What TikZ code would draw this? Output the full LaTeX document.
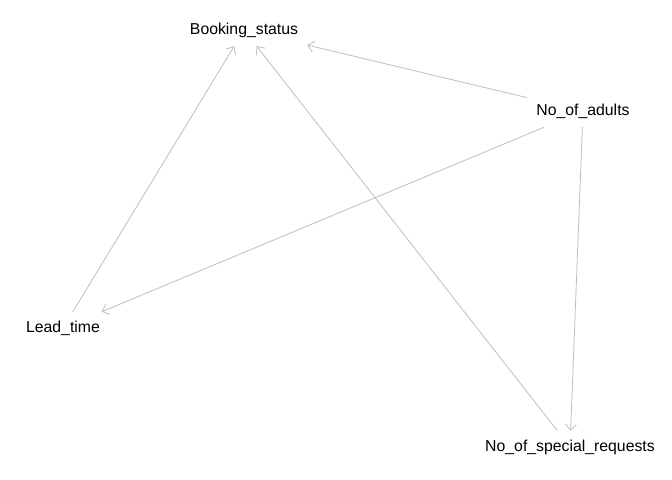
\documentclass[tikz,border=0pt]{standalone}
\usepackage{fontspec}
\setmainfont{Liberation Sans}
\usetikzlibrary{arrows.meta}
\definecolor{edgegray}{RGB}{190,190,190}
\tikzset{
  var/.style={rectangle, inner xsep=9bp, inner ysep=0bp, minimum height=32bp,
    font=\fontsize{15.8bp}{18bp}\selectfont, text=black},
  edge/.style={draw=edgegray, line width=0.8bp, -{Straight Barb[length=6bp,width=11bp]}}
}
\begin{document}
\begin{tikzpicture}[x=1bp,y=-1bp]
\useasboundingbox (0,0) rectangle (672,480);
\node[var] (bs) at (244,30) {Booking\_status};
\node[var] (na) at (583,111) {No\_of\_adults};
\node[var] (lt) at (63,328) {Lead\_time};
\node[var] (sr) at (570,447) {No\_of\_special\_requests};
\draw[edge] (na) -- (bs);
\draw[edge] (na) -- (lt);
\draw[edge] (na) -- (sr);
\draw[edge] (lt) -- (bs);
\draw[edge] (sr) -- (bs);
\end{tikzpicture}
\end{document}
